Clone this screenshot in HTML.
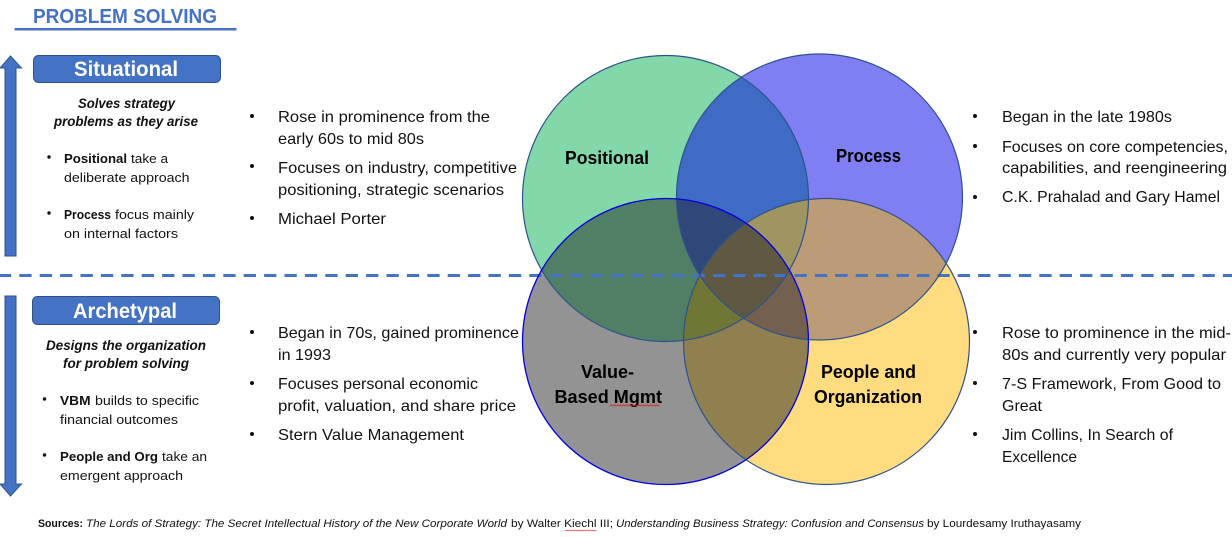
<!DOCTYPE html>
<html><head><meta charset="utf-8"><style>
html,body{margin:0;padding:0;background:#fff;width:1232px;height:537px;overflow:hidden}
svg{display:block}
text{font-family:"Liberation Sans",sans-serif;fill:#111}
.b{font-size:16px}
.s{font-size:13px}
.h{font-size:13.5px;font-weight:bold;font-style:italic}
.l{font-size:18.5px;font-weight:bold;fill:#000}
.f{font-size:11px}
</style></head><body>
<svg width="1232" height="537" viewBox="0 0 1232 537" xmlns="http://www.w3.org/2000/svg">
<defs>
<clipPath id="cg"><circle cx="665.5" cy="198.5" r="143"/></clipPath>
<clipPath id="cb"><circle cx="819.5" cy="197" r="143"/></clipPath>
<clipPath id="ca"><circle cx="665.5" cy="341.5" r="143"/></clipPath>
<clipPath id="cy"><circle cx="826.5" cy="341.5" r="143"/></clipPath>
</defs>
<rect width="1232" height="537" fill="#fff"/>

<text x="33" y="23" font-size="20" font-weight="bold" style="fill:#4472C4" textLength="184" lengthAdjust="spacingAndGlyphs">PROBLEM SOLVING</text>
<rect x="14.5" y="28" width="222" height="2.5" fill="#4472C4"/>

<path d="M5 256V68H0L10.5 56L21.5 68H16V256Z" fill="#4472C4" stroke="#2F528F" stroke-width="1"/>
<path d="M5 296V484H0L10.5 496L21.5 484H16V296Z" fill="#4472C4" stroke="#2F528F" stroke-width="1"/>

<rect x="33.5" y="55.5" width="187" height="27" rx="5" fill="#4472C4" stroke="#2F528F"/>
<text x="74" y="76" font-size="21" font-weight="bold" style="fill:#fff" textLength="104" lengthAdjust="spacingAndGlyphs">Situational</text>
<rect x="32.5" y="296.5" width="187" height="28" rx="5" fill="#4472C4" stroke="#2F528F"/>
<text x="73" y="318" font-size="21" font-weight="bold" style="fill:#fff" textLength="104" lengthAdjust="spacingAndGlyphs">Archetypal</text>

<text class="h" x="78" y="108" textLength="97" lengthAdjust="spacingAndGlyphs">Solves strategy</text>
<text class="h" x="54" y="126" textLength="144" lengthAdjust="spacingAndGlyphs">problems as they arise</text>
<circle cx="49" cy="157" r="1.7" fill="#111"/>
<text class="s" x="64" y="163" font-weight="bold" textLength="63" lengthAdjust="spacingAndGlyphs">Positional</text>
<text class="s" x="131" y="163" textLength="37" lengthAdjust="spacingAndGlyphs">take a</text>
<text class="s" x="64" y="182" textLength="125.500" lengthAdjust="spacingAndGlyphs">deliberate approach</text>
<circle cx="49" cy="213" r="1.7" fill="#111"/>
<text class="s" x="64" y="219" font-weight="bold" textLength="47" lengthAdjust="spacingAndGlyphs">Process</text>
<text class="s" x="115" y="219" textLength="79" lengthAdjust="spacingAndGlyphs">focus mainly</text>
<text class="s" x="64" y="238" textLength="114" lengthAdjust="spacingAndGlyphs">on internal factors</text>

<text class="h" x="46" y="350" textLength="160" lengthAdjust="spacingAndGlyphs">Designs the organization</text>
<text class="h" x="63" y="368" textLength="126" lengthAdjust="spacingAndGlyphs">for problem solving</text>
<circle cx="44.500" cy="399" r="1.7" fill="#111"/>
<text class="s" x="60" y="405" font-weight="bold" textLength="30.500" lengthAdjust="spacingAndGlyphs">VBM</text>
<text class="s" x="95" y="405" textLength="104" lengthAdjust="spacingAndGlyphs">builds to specific</text>
<text class="s" x="60" y="424" textLength="118" lengthAdjust="spacingAndGlyphs">financial outcomes</text>
<circle cx="44.500" cy="455" r="1.7" fill="#111"/>
<text class="s" x="60" y="461" font-weight="bold" textLength="98" lengthAdjust="spacingAndGlyphs">People and Org</text>
<text class="s" x="162" y="461" textLength="45" lengthAdjust="spacingAndGlyphs">take an</text>
<text class="s" x="60" y="480" textLength="123" lengthAdjust="spacingAndGlyphs">emergent approach</text>

<g fill="#111">
<circle cx="252" cy="116" r="2"/><circle cx="252" cy="166" r="2"/><circle cx="252" cy="218" r="2"/>
<circle cx="252" cy="332" r="2"/><circle cx="252" cy="383" r="2"/><circle cx="252" cy="434" r="2"/>
<circle cx="975" cy="116" r="2"/><circle cx="975" cy="146" r="2"/><circle cx="975" cy="197" r="2"/>
<circle cx="975" cy="332" r="2"/><circle cx="975" cy="383" r="2"/><circle cx="975" cy="434" r="2"/>
</g>

<text class="b" x="278" y="122" textLength="212" lengthAdjust="spacingAndGlyphs">Rose in prominence from the</text>
<text class="b" x="278" y="144" textLength="146" lengthAdjust="spacingAndGlyphs">early 60s to mid 80s</text>
<text class="b" x="278" y="173" textLength="239" lengthAdjust="spacingAndGlyphs">Focuses on industry, competitive</text>
<text class="b" x="278" y="195" textLength="226" lengthAdjust="spacingAndGlyphs">positioning, strategic scenarios</text>
<text class="b" x="278" y="224" textLength="108" lengthAdjust="spacingAndGlyphs">Michael Porter</text>

<text class="b" x="278" y="338" textLength="241" lengthAdjust="spacingAndGlyphs">Began in 70s, gained prominence</text>
<text class="b" x="278" y="360" textLength="53" lengthAdjust="spacingAndGlyphs">in 1993</text>
<text class="b" x="278" y="389" textLength="200" lengthAdjust="spacingAndGlyphs">Focuses personal economic</text>
<text class="b" x="278" y="411" textLength="238" lengthAdjust="spacingAndGlyphs">profit, valuation, and share price</text>
<text class="b" x="278" y="440" textLength="186" lengthAdjust="spacingAndGlyphs">Stern Value Management</text>

<text class="b" x="1002" y="122" textLength="170" lengthAdjust="spacingAndGlyphs">Began in the late 1980s</text>
<text class="b" x="1002" y="152" textLength="226" lengthAdjust="spacingAndGlyphs">Focuses on core competencies,</text>
<text class="b" x="1002" y="173" textLength="225" lengthAdjust="spacingAndGlyphs">capabilities, and reengineering</text>
<text class="b" x="1002" y="202" textLength="218" lengthAdjust="spacingAndGlyphs">C.K. Prahalad and Gary Hamel</text>

<text class="b" x="1002" y="338" textLength="229" lengthAdjust="spacingAndGlyphs">Rose to prominence in the mid-</text>
<text class="b" x="1002" y="360" textLength="224" lengthAdjust="spacingAndGlyphs">80s and currently very popular</text>
<text class="b" x="1002" y="389" textLength="219" lengthAdjust="spacingAndGlyphs">7-S Framework, From Good to</text>
<text class="b" x="1002" y="411" textLength="40" lengthAdjust="spacingAndGlyphs">Great</text>
<text class="b" x="1002" y="440" textLength="171" lengthAdjust="spacingAndGlyphs">Jim Collins, In Search of</text>
<text class="b" x="1002" y="462" textLength="75" lengthAdjust="spacingAndGlyphs">Excellence</text>

<circle cx="665.5" cy="198.5" r="143" fill="#82D8A8"/>
<circle cx="819.5" cy="197" r="143" fill="#7F7FF3"/>
<circle cx="665.5" cy="341.5" r="143" fill="#939393"/>
<circle cx="826.5" cy="341.5" r="143" fill="#FFDC7F"/>
<g clip-path="url(#cg)"><circle cx="819.5" cy="197" r="143" fill="#3F6BC4"/></g>
<g clip-path="url(#cg)"><circle cx="665.5" cy="341.5" r="143" fill="#517F66"/></g>
<g clip-path="url(#cb)"><circle cx="826.5" cy="341.5" r="143" fill="#BB9C76"/></g>
<g clip-path="url(#ca)"><circle cx="826.5" cy="341.5" r="143" fill="#91804F"/></g>
<g clip-path="url(#cg)"><g clip-path="url(#cb)"><circle cx="665.5" cy="341.5" r="143" fill="#2F4779"/></g></g>
<g clip-path="url(#cg)"><g clip-path="url(#cb)"><circle cx="826.5" cy="341.5" r="143" fill="#9E9560"/></g></g>
<g clip-path="url(#cg)"><g clip-path="url(#ca)"><circle cx="826.5" cy="341.5" r="143" fill="#707635"/></g></g>
<g clip-path="url(#cb)"><g clip-path="url(#ca)"><circle cx="826.5" cy="341.5" r="143" fill="#73604E"/></g></g>
<g clip-path="url(#cg)"><g clip-path="url(#cb)"><g clip-path="url(#ca)"><circle cx="826.5" cy="341.5" r="143" fill="#5F5843"/></g></g></g>

<line x1="-1.100" y1="275.500" x2="1232" y2="275.500" stroke="#4472C4" stroke-width="3" stroke-dasharray="12.300 8.100"/>

<circle cx="665.5" cy="198.5" r="143" fill="none" stroke="#2F528F" stroke-width="1.200"/>
<circle cx="819.5" cy="197" r="143" fill="none" stroke="#2F528F" stroke-width="1.200"/>
<circle cx="826.5" cy="341.5" r="143" fill="none" stroke="#2F528F" stroke-width="1.200"/>
<circle cx="665.5" cy="341.5" r="143" fill="none" stroke="#0000E0" stroke-width="1.300"/>

<text class="l" x="565" y="164" textLength="84" lengthAdjust="spacingAndGlyphs">Positional</text>
<text class="l" x="836" y="162" textLength="65" lengthAdjust="spacingAndGlyphs">Process</text>
<text class="l" x="581" y="378" textLength="53" lengthAdjust="spacingAndGlyphs">Value-</text>
<text class="l" x="554.500" y="403" textLength="107.500" lengthAdjust="spacingAndGlyphs">Based Mgmt</text>
<text class="l" x="821" y="378" textLength="95" lengthAdjust="spacingAndGlyphs">People and</text>
<text class="l" x="814" y="403" textLength="108" lengthAdjust="spacingAndGlyphs">Organization</text>
<path d="M610 406l1.500-1.200 1.500 1.200 1.500-1.200 1.500 1.200 1.500-1.200 1.500 1.200 1.500-1.200 1.500 1.200 1.500-1.200 1.500 1.200 1.500-1.200 1.500 1.200 1.500-1.200 1.500 1.200 1.500-1.200 1.500 1.200 1.500-1.200 1.500 1.200 1.500-1.200 1.500 1.200 1.500-1.200 1.500 1.200 1.500-1.200 1.500 1.200 1.500-1.200 1.500 1.200 1.500-1.200 1.500 1.200 1.500-1.200 1.500 1.200 1.500-1.200 1.500 1.200 1.500-1.200" fill="none" stroke="#D22" stroke-width="0.800"/>

<text class="f" x="38" y="527" font-weight="bold" textLength="45" lengthAdjust="spacingAndGlyphs">Sources:</text>
<text class="f" x="86" y="527" font-style="italic" textLength="421" lengthAdjust="spacingAndGlyphs">The Lords of Strategy: The Secret Intellectual History of the New Corporate World</text>
<text class="f" x="511" y="527" textLength="102" lengthAdjust="spacingAndGlyphs">by Walter Kiechl III;</text>
<text class="f" x="616" y="527" font-style="italic" textLength="308" lengthAdjust="spacingAndGlyphs">Understanding Business Strategy: Confusion and Consensus</text>
<text class="f" x="927" y="527" textLength="154" lengthAdjust="spacingAndGlyphs">by Lourdesamy Iruthayasamy</text>
<path d="M565 531l1.500-1 1.500 1 1.500-1 1.500 1 1.500-1 1.500 1 1.500-1 1.500 1 1.500-1 1.500 1 1.500-1 1.500 1 1.500-1 1.500 1 1.500-1 1.500 1 1.500-1 1.500 1 1.500-1 1.500 1 1.500-1" fill="none" stroke="#D22" stroke-width="0.700"/>
</svg>
</body></html>
